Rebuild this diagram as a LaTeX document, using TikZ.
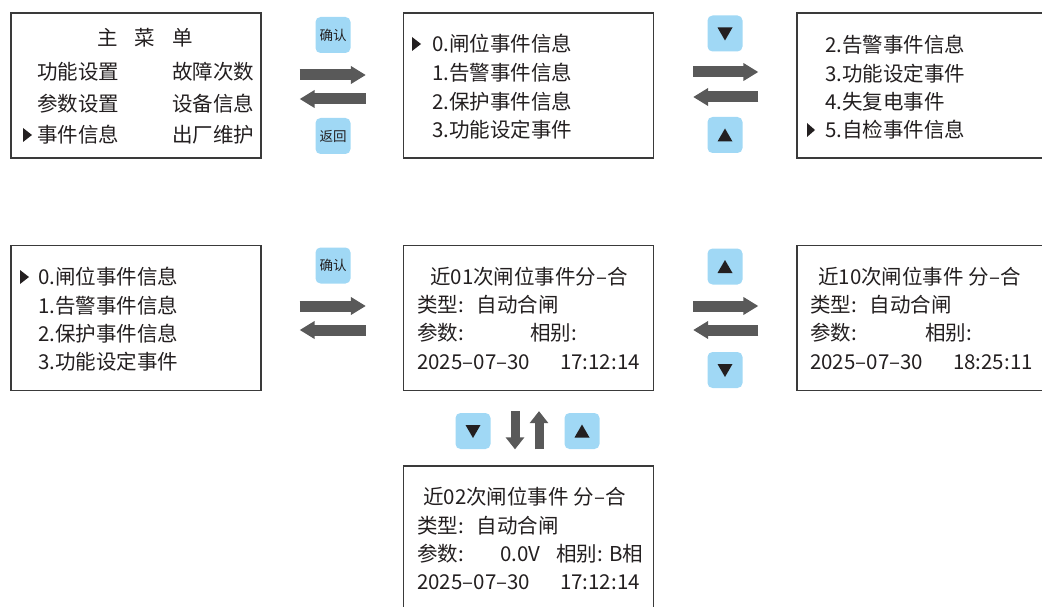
\documentclass[tikz,border=0pt]{standalone}
\usepackage{fontspec}
\setmainfont{Noto Sans CJK SC}
\usetikzlibrary{arrows.meta,calc}
\definecolor{ink}{HTML}{231F20}
\definecolor{frame}{HTML}{3A3A3A}
\definecolor{shaft}{HTML}{595959}
\definecolor{keyblue}{HTML}{A0D8F5}

\begin{document}
\begin{tikzpicture}[x=1pt,y=-1pt,
  screen/.style={draw=frame,line width=1.3pt,inner sep=0pt,minimum width=#1,minimum height=145pt},
  screen/.default=250pt,
  txt/.style={anchor=west,inner sep=0pt,text=ink,font=\fontsize{20.5}{24}\selectfont},
  keybox/.style={fill=keyblue,rounded corners=5pt,minimum width=35pt,minimum height=36pt,inner sep=0pt,text=ink,font=\fontsize{13.5}{15}\selectfont},
  bigarrow/.style={draw=shaft,line width=11pt,-{Triangle[length=15pt,width=17pt]}},
  vertarrow/.style={draw=shaft,line width=9pt,-{Triangle[length=12pt,width=18pt]}},
  marker/.style={fill=ink},
]
\useasboundingbox (0,0) rectangle (1042,607);
\clip (0,0) rectangle (1042,607);

% screens
\node[screen] (menu) at (136,85.5) {};
\node[screen] (list1) at (528.5,85.5) {};
\node[screen=260pt] (list2) at (927,85.5) {};
\node[screen] (list3) at (136,318) {};
\node[screen] (rec1) at (528.5,318) {};
\node[screen=260pt] (rec10) at (927,318) {};
\node[screen,minimum height=160pt] (rec2) at (528.5,546) {};

% main menu
\node[txt,anchor=center] (mtitle) at (145,38) {主\hspace{17pt}菜\hspace{17pt}单};
\node[txt] (m1) at (37,72) {功能设置};
\node[txt] (m2) at (172,72) {故障次数};
\node[txt] (m3) at (37,103.5) {参数设置};
\node[txt] (m4) at (172,103.5) {设备信息};
\node[txt] (m5) at (37,135) {事件信息};
\node[txt] (m6) at (172,135) {出厂维护};
\fill[marker] (23,128) -- (32,135) -- (23,142) -- cycle;

% event list, top
\node[txt] (a0) at (432,44) {0.闸位事件信息};
\node[txt] (a1) at (432,73) {1.告警事件信息};
\node[txt] (a2) at (432,102) {2.保护事件信息};
\node[txt] (a3) at (432,130) {3.功能设定事件};
\fill[marker] (412,37) -- (421,44) -- (412,51) -- cycle;

\node[txt] (b2) at (825,45) {2.告警事件信息};
\node[txt] (b3) at (825,73.5) {3.功能设定事件};
\node[txt] (b4) at (825,101.5) {4.失复电事件};
\node[txt] (b5) at (825,130) {5.自检事件信息};
\fill[marker] (807,123) -- (815,130) -- (807,137) -- cycle;

% event list, bottom
\node[txt] (c0) at (38,277) {0.闸位事件信息};
\node[txt] (c1) at (38,306) {1.告警事件信息};
\node[txt] (c2) at (38,334) {2.保护事件信息};
\node[txt] (c3) at (38,362) {3.功能设定事件};
\fill[marker] (20,270) -- (29,277) -- (20,284) -- cycle;

% records
\node[txt] (r1t) at (430,277) {近01次闸位事件分–合};
\node[txt] (r1k) at (417,305) {类型:\hspace{13pt}自动合闸};
\node[txt] (r1p) at (417,333) {参数:};
\node[txt] (r1x) at (530,333) {相别:};
\node[txt] (r1d) at (417,362) {2025–07–30};
\node[txt,anchor=east] (r1h) at (640,362) {17:12:14};

\node[txt] (rat) at (818,277) {近10次闸位事件 分–合};
\node[txt] (rak) at (810,305) {类型:\hspace{13pt}自动合闸};
\node[txt] (rap) at (810,333) {参数:};
\node[txt] (rax) at (925,333) {相别:};
\node[txt] (rad) at (810,362) {2025–07–30};
\node[txt,anchor=east] (rah) at (1033,362) {18:25:11};

\node[txt] (r2t) at (423,497) {近02次闸位事件 分–合};
\node[txt] (r2k) at (417,526) {类型:\hspace{13pt}自动合闸};
\node[txt] (r2p) at (417,554) {参数:};
\node[txt] (r2v) at (500,554) {0.0V};
\node[txt] (r2x) at (556,554) {相别: B相};
\node[txt] (r2d) at (417,582) {2025–07–30};
\node[txt,anchor=east] (r2h) at (640,582) {17:12:14};

% keys
\node[keybox] (ok1) at (333,35) {确认};
\node[keybox] (back) at (333,136) {返回};
\node[keybox] (ok2) at (333,265.5) {确认};
\node[keybox] (dn1) at (725,33.5) {};
\node[keybox] (up1) at (725,135) {};
\node[keybox] (up2) at (725,266.5) {};
\node[keybox] (dn2) at (725,370) {};
\node[keybox] (dn3) at (473,431) {};
\node[keybox] (up3) at (582,431) {};
\foreach \k in {dn1,dn2,dn3}
  \fill[marker] ($(\k.center)+(-7.5,-6)$) -- ++(15,0) -- ++(-7.5,13) -- cycle;
\foreach \k in {up1,up2,up3}
  \fill[marker] ($(\k.center)+(-7.5,6.5)$) -- ++(15,0) -- ++(-7.5,-13) -- cycle;

% arrows
\draw[bigarrow] ($(menu.east)+(38,-10.5)$) -- ($(list1.west)+(-37,-10.5)$);
\draw[bigarrow] ($(list1.west)+(-37,13.5)$) -- ($(menu.east)+(38,13.5)$);
\draw[bigarrow] ($(list1.east)+(39,-13.5)$) -- ($(list2.west)+(-38,-13.5)$);
\draw[bigarrow] ($(list2.west)+(-38,11.5)$) -- ($(list1.east)+(39,11.5)$);
\draw[bigarrow] ($(list3.east)+(38,-12)$) -- ($(rec1.west)+(-37,-12)$);
\draw[bigarrow] ($(rec1.west)+(-37,12)$) -- ($(list3.east)+(38,12)$);
\draw[bigarrow] ($(rec1.east)+(39,-12)$) -- ($(rec10.west)+(-38,-12)$);
\draw[bigarrow] ($(rec10.west)+(-38,12)$) -- ($(rec1.east)+(39,12)$);
\draw[vertarrow] ($(rec1.south)+(-13.5,20)$) -- ($(rec2.north)+(-13.5,-16)$);
\draw[vertarrow] ($(rec2.north)+(10.5,-16)$) -- ($(rec1.south)+(10.5,20)$);
\end{tikzpicture}
\end{document}
